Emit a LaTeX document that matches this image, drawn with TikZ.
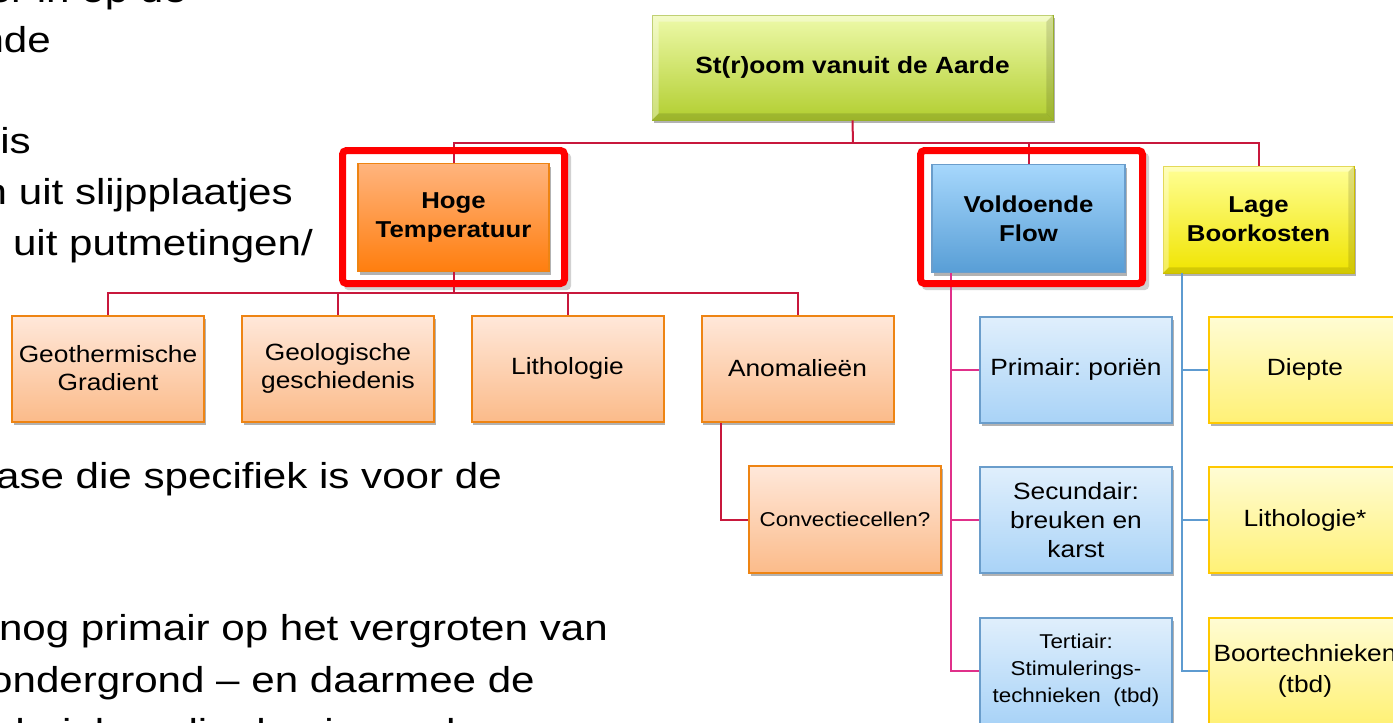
\documentclass[tikz,border=0pt]{standalone}
\usepackage{fontspec}
\setmainfont{Liberation Sans}[FakeStretch=1.12]
\newfontfamily\slidefont{Liberation Sans}[FakeStretch=1.17]
\usetikzlibrary{shadows}
\definecolor{rootTop}{HTML}{EEFAAA}
\definecolor{rootBot}{HTML}{B2CE30}
\definecolor{rootLine}{HTML}{9FB82A}
\definecolor{hogeTop}{HTML}{FFB47E}
\definecolor{hogeBot}{HTML}{FF7E0E}
\definecolor{orangeLine}{HTML}{EE8413}
\definecolor{voldTop}{HTML}{A6D7FC}
\definecolor{voldBot}{HTML}{589ED6}
\definecolor{blueLine}{HTML}{6A9DCB}
\definecolor{lageTop}{HTML}{FFFF96}
\definecolor{lageBot}{HTML}{F0E400}
\definecolor{lageLine}{HTML}{D6C600}
\definecolor{oTop}{HTML}{FFE8DA}
\definecolor{oBot}{HTML}{FBBB8A}
\definecolor{bTop}{HTML}{E0EFFC}
\definecolor{bBot}{HTML}{A9D3F7}
\definecolor{yTop}{HTML}{FFFCD4}
\definecolor{yBot}{HTML}{FFF176}
\definecolor{yLine}{HTML}{FFC800}
\definecolor{conRed}{HTML}{C8183C}
\definecolor{conPink}{HTML}{E0308A}
\definecolor{conBlue}{HTML}{5E9BD0}
\definecolor{frameRed}{HTML}{FF0000}
\begin{document}
\begin{tikzpicture}[x=1pt,y=-1pt,
  slide/.style={font=\slidefont\fontsize{36}{43}\selectfont, inner sep=0pt, anchor=base east},
  shad/.style={drop shadow={shadow xshift=1.5pt, shadow yshift=-3pt, opacity=0.3, fill=black}},
  bigbox/.style={shad, align=center, inner sep=2pt, minimum width=191, minimum height=108,
    font=\bfseries\fontsize{23}{29}\selectfont},
  obox/.style={shad, align=center, inner sep=2pt, minimum width=192, minimum height=106,
    top color=oTop, bottom color=oBot, draw=orangeLine, line width=2pt,
    font=\fontsize{23.5}{28}\selectfont},
  bbox/.style={shad, align=center, inner sep=2pt, minimum width=192, minimum height=106,
    top color=bTop, bottom color=bBot, draw=blueLine, line width=2pt,
    font=\fontsize{23.5}{29}\selectfont},
  ybox/.style={shad, align=center, inner sep=2pt, minimum width=192, minimum height=106,
    top color=yTop, bottom color=yBot, draw=yLine, line width=2pt,
    font=\fontsize{23.5}{31}\selectfont},
  redframe/.style={draw=frameRed, line width=7pt, rounded corners=4pt,
    minimum width=222, minimum height=133, inner sep=0pt},
  conR/.style={draw=conRed, line width=2pt},
  conP/.style={draw=conPink, line width=2pt},
  conB/.style={draw=conBlue, line width=2pt},
  bevlight/.style={fill=white, opacity=0.35},
  bevdark/.style={fill=black, opacity=0.12}
]
\useasboundingbox[fill=white] (0,0) rectangle (1393,723);

% slide text (cut off on the left, as in the slide)
\node[slide] (t1) at (187,2) {er in op de};
\node[slide] (t2) at (51,52) {nde};
\node[slide] (t3) at (31,153) {is};
\node[slide] (t4) at (293,204) {n uit slijpplaatjes};
\node[slide] (t5) at (313,255) {n uit putmetingen/};
\node[slide] (t6) at (502,488) {ase die specifiek is voor de};
\node[slide] (t7) at (608,640) {nog primair op het vergroten van};
\node[slide] (t8) at (535,692) {ondergrond – en daarmee de};
\node[slide] (t9) at (587,744) {chnieken die de eigenschappen};

% coordinates for buses
\coordinate (bus1) at (853,143);
\coordinate (bus2) at (453.5,293);

% red highlight frames (shadow only)
\fill[black, opacity=0.18, rounded corners=4pt] (344,153) rectangle (571,290);
\fill[black, opacity=0.18, rounded corners=4pt] (922,153) rectangle (1149,290);
\fill[white] (346,154) rectangle (561,280);
\fill[white] (924,154) rectangle (1139,280);

% nodes
\node[shad, top color=rootTop, bottom color=rootBot, draw=rootLine, line width=0.8pt,
  minimum width=401, minimum height=105, inner sep=0pt,
  font=\bfseries\fontsize{23.5}{28}\selectfont] (root) at (852.5,67.5) {};
\fill[bevlight] (root.north west) -- (root.north east) -- ++(-7,7) -- ([shift={(7,7)}]root.north west) -- cycle;
\fill[bevlight] (root.north west) -- ([shift={(7,7)}]root.north west) -- ([shift={(7,-7)}]root.south west) -- (root.south west) -- cycle;
\fill[bevdark] (root.north east) -- (root.south east) -- ([shift={(-7,-7)}]root.south east) -- ([shift={(-7,7)}]root.north east) -- cycle;
\fill[bevdark] (root.south west) -- (root.south east) -- ([shift={(-7,-7)}]root.south east) -- ([shift={(7,-7)}]root.south west) -- cycle;
\node[font=\bfseries\fontsize{23.5}{28}\selectfont] (roottext) at (root.center) {St(r)oom vanuit de Aarde};

\node[bigbox, top color=hogeTop, bottom color=hogeBot, draw=orangeLine, line width=1.5pt] (hoge) at (453.5,217.5) {Hoge\\Temperatuur};
\node[bigbox, top color=voldTop, bottom color=voldBot, draw=blueLine, line width=1.5pt, minimum width=193] (vold) at (1028.5,218.5) {Voldoende\\Flow};
\node[bigbox, top color=lageTop, bottom color=lageBot, draw=lageLine, line width=0.8pt, minimum height=107] (lage) at (1258.5,219.5) {};
\fill[bevlight] (lage.north west) -- (lage.north east) -- ++(-6,6) -- ([shift={(6,6)}]lage.north west) -- cycle;
\fill[bevlight] (lage.north west) -- ([shift={(6,6)}]lage.north west) -- ([shift={(6,-6)}]lage.south west) -- (lage.south west) -- cycle;
\fill[bevdark] (lage.north east) -- (lage.south east) -- ([shift={(-6,-6)}]lage.south east) -- ([shift={(-6,6)}]lage.north east) -- cycle;
\fill[bevdark] (lage.south west) -- (lage.south east) -- ([shift={(-6,-6)}]lage.south east) -- ([shift={(6,-6)}]lage.south west) -- cycle;
\node[align=center, font=\bfseries\fontsize{23}{29}\selectfont] (lagetext) at (lage.center) {Lage\\Boorkosten};

\node[obox] (geo) at (108,368.5) {Geothermische\\Gradient};
\node[obox] (geol) at (338,368.5) {Geologische\\geschiedenis};
\node[obox] (lith) at (567.5,368.5) {Lithologie};
\node[obox] (anom) at (797.5,368.5) {Anomalieën};
\node[obox, minimum height=107, font=\fontsize{20}{25}\selectfont] (conv) at (845,519.5) {Convectiecellen?};

\node[bbox] (prim) at (1076,369.5) {Primair:\ poriën};
\node[bbox] (sec) at (1076,520) {Secundair:\\breuken en\\karst};
\node[bbox, font=\fontsize{20}{27}\selectfont] (ter) at (1076,670.5) {Tertiair:\\Stimulerings-\\technieken\ \ (tbd)};

\node[ybox] (diep) at (1305,369.5) {Diepte};
\node[ybox] (lith2) at (1305,520) {Lithologie*};
\node[ybox] (boor) at (1305,670.5) {Boortechnieken\\(tbd)};

% connectors
\draw[conR] (root.south) -- (bus1);
\draw[conR] (hoge.north) |- (bus1) -| (lage.north);
\draw[conR] (bus1) -| (vold.north);
\draw[conR] (hoge.south) -- (bus2);
\draw[conR] (geo.north) |- (bus2) -| (anom.north);
\draw[conR] (bus2) -| (geol.north);
\draw[conR] (bus2) -| (lith.north);
\draw[conR] ([xshift=20pt]anom.south west) |- (conv.west);
\draw[conP] ([xshift=20pt]vold.south west) |- (prim.west);
\draw[conP] ([xshift=20pt]vold.south west) |- (sec.west);
\draw[conP] ([xshift=20pt]vold.south west) |- (ter.west);
\draw[conB] ([xshift=19pt]lage.south west) |- (diep.west);
\draw[conB] ([xshift=19pt]lage.south west) |- (lith2.west);
\draw[conB] ([xshift=19pt]lage.south west) |- (boor.west);

% red highlight frames
\node[redframe] (f1) at (453.5,217) {};
\node[redframe] (f2) at (1031.5,217) {};
\end{tikzpicture}
\end{document}
